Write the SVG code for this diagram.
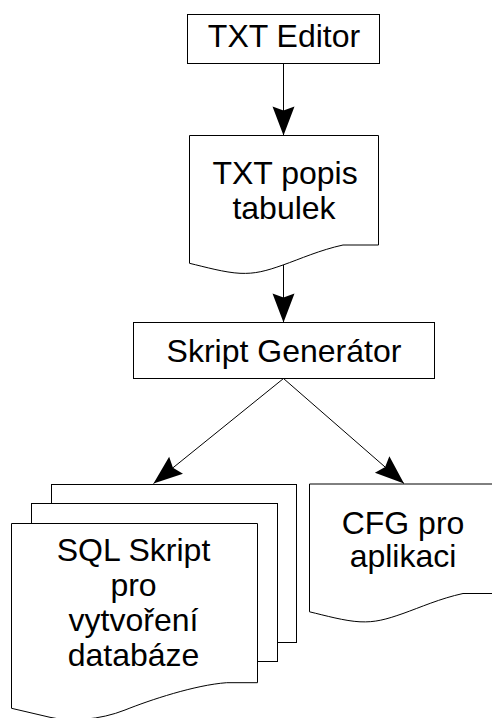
<svg xmlns="http://www.w3.org/2000/svg" width="492" height="718" viewBox="0 0 492 718">
<style>
.box{fill:#fff;stroke:#000;stroke-width:1}
.lbl{font-family:"Liberation Sans",Arial,sans-serif;font-size:32px;fill:#000;text-anchor:middle}
.con{stroke:#000;stroke-width:1;fill:none}
</style>
<defs>
<marker id="arr" viewBox="-30 -12 31 24" markerWidth="31" markerHeight="24" refX="0" refY="0" markerUnits="userSpaceOnUse" orient="auto">
<path d="M0,0 L-29,-11 L-25,0 L-29,11 Z" fill="#000"/>
</marker>
<path id="doc" d="M189.5,135.5 H378.5 V245 H343 C320,250 300,259 283,265 S255,274 240,273.3 S205,267 189.5,263.3 Z"/>
</defs>
<g id="txt-editor">
<rect class="box" x="187.5" y="14.5" width="192" height="49"/>
<text class="lbl" x="284" y="47">TXT Editor</text>
</g>
<g id="txt-popis">
<use href="#doc" class="box"/>
<text class="lbl" x="285" y="183.5">TXT popis</text>
<text class="lbl" x="284" y="218.5">tabulek</text>
</g>
<g id="skript-generator">
<rect class="box" x="133.5" y="322.5" width="301" height="56"/>
<text class="lbl" x="284" y="361.5">Skript Generátor</text>
</g>
<g id="sql-skript">
<rect class="box" x="51.5" y="484.5" width="245" height="158"/>
<rect class="box" x="31.5" y="503.5" width="246" height="158"/>
<path class="box" d="M11.5,523.5 H257.5 V682.7 H226.7 C195,685 150,700 125,710 C100,720 70,722 50,717.3 L11.5,708.3 Z"/>
<text class="lbl" x="133.5" y="560.5">SQL Skript</text>
<text class="lbl" x="133.5" y="595.5">pro</text>
<text class="lbl" x="133.5" y="630.5">vytvoření</text>
<text class="lbl" x="133.5" y="665.5">databáze</text>
</g>
<g id="cfg">
<use href="#doc" class="box" transform="translate(120,348.5)"/>
<text class="lbl" x="403" y="533.5">CFG pro</text>
<text class="lbl" x="403" y="567">aplikaci</text>
</g>
<g id="connectors">
<line class="con" x1="283.5" y1="63.5" x2="283.5" y2="135.5" marker-end="url(#arr)"/>
<line class="con" x1="283.5" y1="265" x2="283.5" y2="322.5" marker-end="url(#arr)"/>
<line class="con" x1="283.5" y1="378.5" x2="153.5" y2="483.5" marker-end="url(#arr)"/>
<line class="con" x1="283.5" y1="378.5" x2="404" y2="483.5" marker-end="url(#arr)"/>
</g>
</svg>
